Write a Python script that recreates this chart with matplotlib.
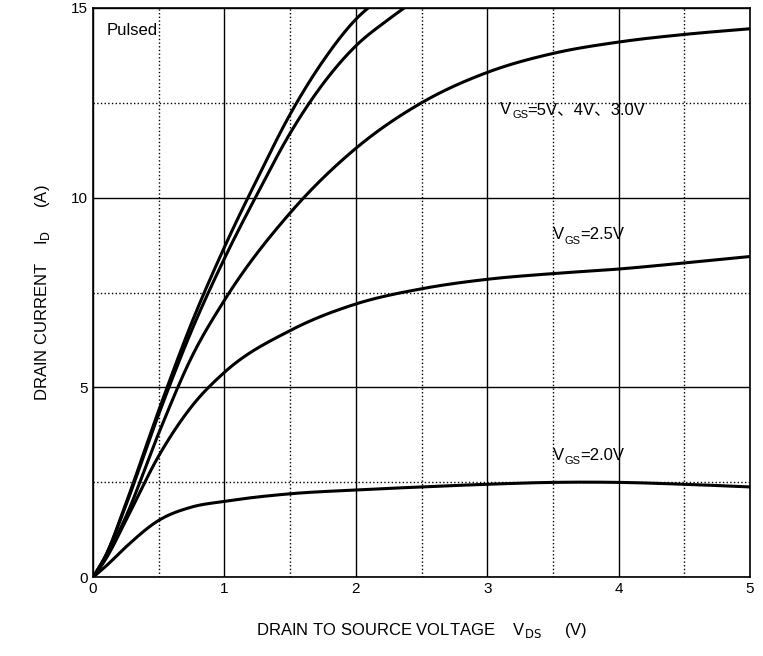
import numpy as np
import matplotlib.pyplot as plt
from matplotlib.transforms import offset_copy

plt.rcParams['font.family'] = ['Liberation Sans', 'Noto Sans CJK SC', 'DejaVu Sans']

vds_20 = [0, 0.1, 0.25, 0.5, 0.75, 1.0, 1.5, 2.0, 2.5, 3.0, 3.5, 4.0, 4.5, 5.0]
id_20 = [0, 0.3, 0.8, 1.5, 1.85, 2.0, 2.2, 2.3, 2.38, 2.45, 2.5, 2.5, 2.45, 2.38]
vds_25 = [0, 0.1, 0.25, 0.5, 0.75, 1.0, 1.5, 2.0, 2.5, 3.0, 3.5, 4.0, 4.5, 5.0]
id_25 = [0, 0.5, 1.5, 3.2, 4.5, 5.4, 6.5, 7.2, 7.6, 7.85, 8.0, 8.12, 8.28, 8.45]
vds_30 = [0, 0.1, 0.25, 0.5, 0.75, 1.0, 1.5, 2.0, 2.5, 3.0, 3.5, 4.0, 4.5, 5.0]
id_30 = [0, 0.55, 1.6, 3.8, 5.8, 7.3, 9.6, 11.3, 12.5, 13.3, 13.8, 14.1, 14.3, 14.45]
vds_40 = [0, 0.1, 0.25, 0.5, 0.75, 1.0, 1.25, 1.5, 1.75, 2.0, 2.25, 2.45]
id_40 = [0, 0.6, 1.9, 4.3, 6.5, 8.4, 10.1, 11.7, 13.0, 14.0, 14.7, 15.2]
vds_50 = [0, 0.1, 0.25, 0.5, 0.75, 1.0, 1.25, 1.5, 1.75, 2.0, 2.2]
id_50 = [0, 0.6, 1.95, 4.4, 6.7, 8.7, 10.5, 12.2, 13.6, 14.7, 15.3]


def smooth(x, y, n=400):
    # cubic Hermite through the read points (finite-difference slopes)
    x = np.asarray(x, float); y = np.asarray(y, float)
    m = np.gradient(y, x)
    xs = np.linspace(x[0], x[-1], n)
    i = np.clip(np.searchsorted(x, xs) - 1, 0, len(x) - 2)
    h = x[i + 1] - x[i]
    t = (xs - x[i]) / h
    h00 = 2*t**3 - 3*t**2 + 1; h10 = t**3 - 2*t**2 + t
    h01 = -2*t**3 + 3*t**2; h11 = t**3 - t**2
    return xs, h00*y[i] + h10*h*m[i] + h01*y[i+1] + h11*h*m[i+1]


fig = plt.figure(figsize=(7.63, 6.56), dpi=100)
ax = fig.add_axes([0.122, 0.12, 0.861, 0.868])

for x, y in [(vds_20, id_20), (vds_25, id_25), (vds_30, id_30), (vds_40, id_40), (vds_50, id_50)]:
    xs, ys = smooth(x, y)
    ax.plot(xs, ys, color='black', lw=2.2)

ax.set_xlim(0, 5)
ax.set_ylim(0, 15)
ax.set_xticks(range(6))
ax.set_yticks([0, 5, 10, 15])
ax.set_xticks(np.arange(0.5, 5, 1), minor=True)
ax.set_yticks([2.5, 7.5, 12.5], minor=True)
ax.grid(True, which='major', color='black', lw=1)
ax.grid(True, which='minor', color='black', lw=1, ls=':')
ax.tick_params(which='both', length=0, labelsize=11)
for s in ax.spines.values():
    s.set_linewidth(1.2)

ax.text(0.1, 14.6, 'Pulsed', fontsize=12, va='top')


def vgs_label(x, y, rest):
    ax.text(x, y, 'V', fontsize=12)
    ax.text(x, y, 'GS', fontsize=8, transform=offset_copy(ax.transData, fig, x=8.5, y=-3, units='points'))
    ax.text(x, y, rest, fontsize=12, transform=offset_copy(ax.transData, fig, x=19.5, y=0, units='points'))


vgs_label(3.1, 12.2, '=5V、4V、3.0V')
vgs_label(3.5, 8.9, '=2.5V')
vgs_label(3.5, 3.1, '=2.0V')

ax.set_xlabel(r'DRAIN TO SOURCE VOLTAGE    V$_{\rm DS}$     (V)', fontsize=12, labelpad=18)
ax.set_ylabel(r'DRAIN CURRENT    I$_{\rm D}$     (A)', fontsize=12, labelpad=14)

fig.savefig('out.png', dpi=100)
